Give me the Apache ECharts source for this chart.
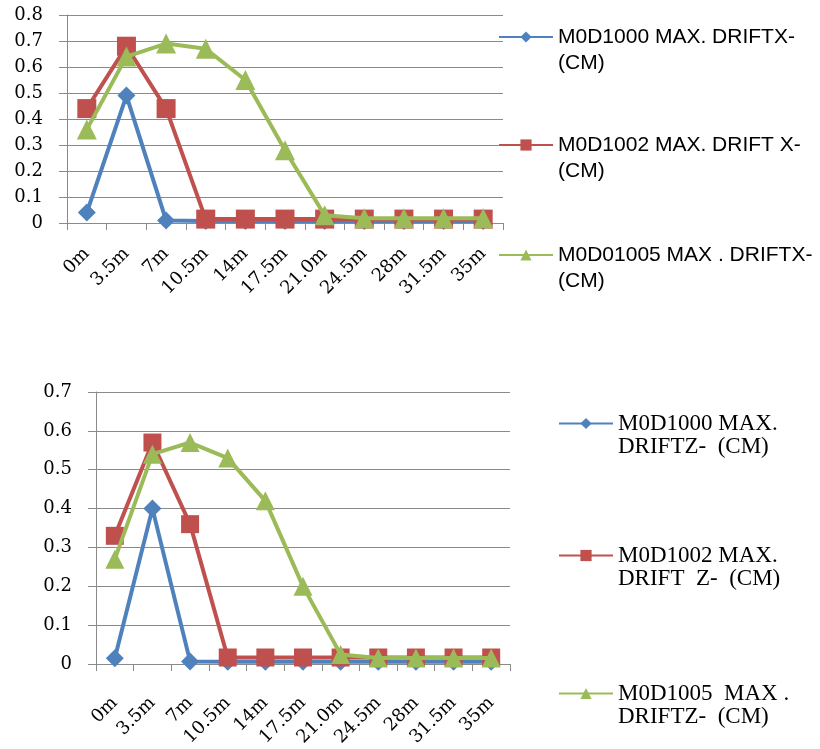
<!DOCTYPE html>
<html>
<head>
<meta charset="utf-8">
<script src="https://cdn.jsdelivr.net/npm/echarts@6/dist/echarts.min.js"></script>
<style>html,body{margin:0;padding:0;background:#fff}#c{width:820px;height:749px}</style>
</head>
<body>
<div id="c"></div>
<script>
var categories = ['0m','3.5m','7m','10.5m','14m','17.5m','21.0m','24.5m','28m','31.5m','35m'];
var yTicksTop = [0, 0.8, 0.1];
var yTicksBottom = [0, 0.7, 0.1];

var namesTop = ['M0D1000 MAX. DRIFTX-\n(CM)', 'M0D1002 MAX. DRIFT X-\n(CM)', 'M0D01005 MAX . DRIFTX-\n(CM)'];
var namesBottom = ['M0D1000 MAX.\nDRIFTZ-  (CM)', 'M0D1002 MAX.\nDRIFT  Z-  (CM)', 'M0D1005  MAX .\nDRIFTZ-  (CM)'];

var driftX1000 = [0.04, 0.49, 0.01, 0.008, 0.008, 0.008, 0.008, 0.008, 0.008, 0.008, 0.008];
var driftX1002 = [0.44, 0.68, 0.44, 0.015, 0.015, 0.015, 0.015, 0.015, 0.015, 0.015, 0.015];
var driftX1005 = [0.36, 0.64, 0.69, 0.67, 0.55, 0.28, 0.03, 0.018, 0.018, 0.018, 0.018];

var driftZ1000 = [0.015, 0.40, 0.007, 0.006, 0.006, 0.006, 0.006, 0.006, 0.006, 0.006, 0.006];
var driftZ1002 = [0.33, 0.57, 0.36, 0.017, 0.017, 0.017, 0.017, 0.017, 0.017, 0.017, 0.017];
var driftZ1005 = [0.27, 0.54, 0.57, 0.53, 0.42, 0.20, 0.025, 0.016, 0.016, 0.016, 0.016];

var colors = ['#4F81BD', '#C0504D', '#9BBB59'];
var symbols = ['diamond', 'rect', 'triangle'];
var gridColor = '#8a8a8a';

function mkSeries(name, data, i, axisIdx, sizes) {
  return {
    name: name, type: 'line', data: data,
    xAxisIndex: axisIdx, yAxisIndex: axisIdx,
    symbol: symbols[i], symbolSize: sizes[i],
    lineStyle: {color: colors[i], width: 4},
    itemStyle: {color: colors[i]},
    z: 2 + i, animation: false
  };
}

function mkX(gi, margin) {
  return {
    type: 'category', gridIndex: gi, data: categories, boundaryGap: true,
    axisLine: {show: true, lineStyle: {color: gridColor, width: 1}},
    axisTick: {show: true, length: 7, alignWithLabel: false, lineStyle: {color: gridColor}},
    axisLabel: {rotate: 45, margin: margin, color: '#000', fontFamily: 'DejaVu Serif', fontSize: 18, interval: 0},
    splitLine: {show: false}
  };
}
function mkY(gi, t) {
  return {
    type: 'value', gridIndex: gi, min: t[0], max: t[1], interval: t[2],
    axisLine: {show: true, lineStyle: {color: gridColor, width: 1}},
    axisTick: {show: true, length: 8, lineStyle: {color: gridColor}},
    axisLabel: {margin: 24, color: '#000', fontFamily: 'DejaVu Serif', fontSize: 18},
    splitLine: {show: true, lineStyle: {color: gridColor, width: 1}}
  };
}
function mkLegend(name, left, top, font, size, lh) {
  return {
    data: [name], left: left, top: top, orient: 'vertical',
    itemWidth: 54, itemHeight: 14, itemGap: 0, padding: 0,
    formatter: function (n) { return '\n' + n; },
    textStyle: {fontFamily: font, fontSize: size, color: '#000', lineHeight: lh}
  };
}

var chart = echarts.init(document.getElementById('c'));
chart.setOption({
  backgroundColor: '#fff',
  animation: false,
  grid: [
    {left: 67, top: 15, width: 436, height: 208},
    {left: 96, top: 392, width: 414, height: 275}
  ],
  xAxis: [mkX(0, 28), mkX(1, 36)],
  yAxis: [mkY(0, yTicksTop), mkY(1, yTicksBottom)],
  legend: [
    mkLegend(namesTop[0], 498, -2, 'Liberation Sans', 21, 26),
    mkLegend(namesTop[1], 498, 106, 'Liberation Sans', 21, 26),
    mkLegend(namesTop[2], 498, 216, 'Liberation Sans', 21, 26),
    mkLegend(namesBottom[0], 558, 389, 'Liberation Serif', 23, 23),
    mkLegend(namesBottom[1], 558, 521, 'Liberation Serif', 23, 23),
    mkLegend(namesBottom[2], 558, 659, 'Liberation Serif', 23, 23)
  ],
  series: [
    mkSeries(namesTop[0], driftX1000, 0, 0, [18, 19, 20]),
    mkSeries(namesTop[1], driftX1002, 1, 0, [18, 19, 20]),
    mkSeries(namesTop[2], driftX1005, 2, 0, [18, 19, 20]),
    mkSeries(namesBottom[0], driftZ1000, 0, 1, [18, 18, 19]),
    mkSeries(namesBottom[1], driftZ1002, 1, 1, [18, 18, 19]),
    mkSeries(namesBottom[2], driftZ1005, 2, 1, [18, 18, 19])
  ]
});
</script>
</body>
</html>
